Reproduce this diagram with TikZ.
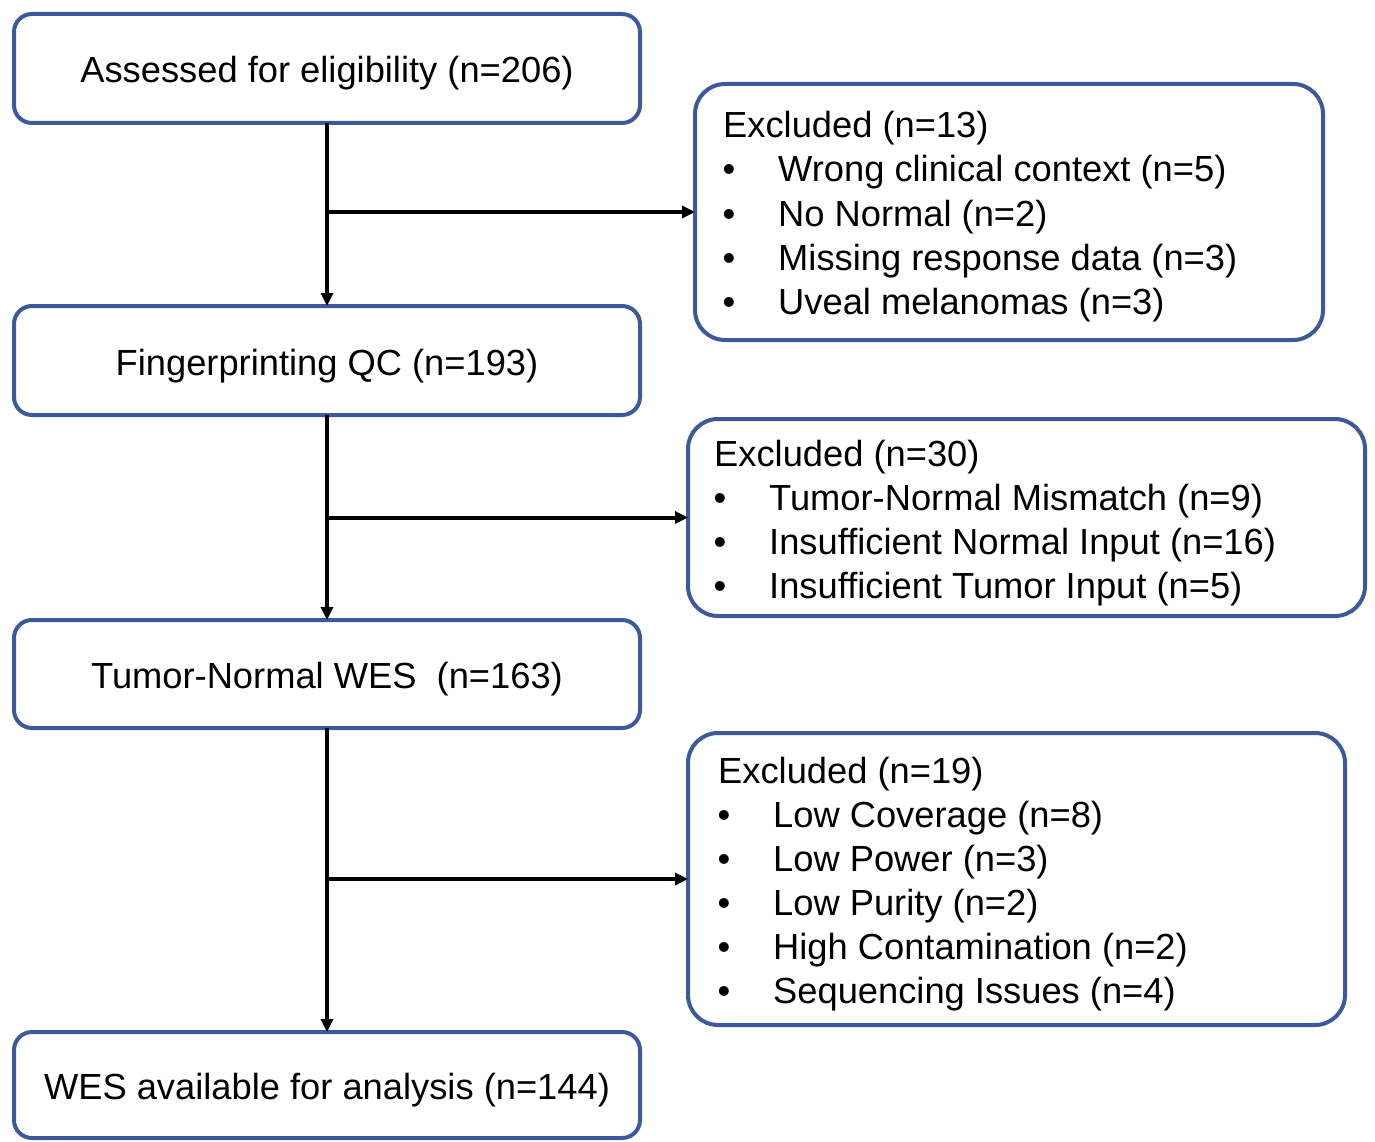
\documentclass[tikz,border=0pt]{standalone}
\usepackage{fontspec}
\setmainfont{Liberation Sans}
\usetikzlibrary{arrows.meta}
\definecolor{boxblue}{RGB}{60,90,155}
\begin{document}
\begin{tikzpicture}[x=1pt,y=-1pt,
  font=\fontsize{36.3}{42}\selectfont,
  mainbox/.style={draw=boxblue, line width=4pt, rounded corners=18pt, inner sep=0pt, outer sep=0pt, minimum width=626pt, text height=36pt, text depth=7pt},
  exbox/.style={draw=boxblue, line width=4pt, rounded corners=30pt, inner sep=0pt, outer sep=0pt},
  txt/.style={anchor=base west, inner sep=0pt},
  bul/.style={anchor=base, inner sep=0pt},
  arr/.style={line width=4pt, -{Triangle[length=13pt,width=12pt]}}]
\useasboundingbox (0,0) rectangle (1375,1142);

% main boxes
\node[mainbox, minimum height=109pt] (b1) at (327,68.5) {Assessed for eligibility (n=206)};
\node[mainbox, minimum height=109pt] (b2) at (327,360.5) {Fingerprinting QC (n=193)};
\node[mainbox, minimum height=108pt] (b3) at (327,674) {Tumor-Normal WES\ \ (n=163)};
\node[mainbox, minimum height=106pt] (b4) at (327,1085) {WES available for analysis (n=144)};

% exclusion boxes
\node[exbox, minimum width=628pt, minimum height=256pt] (e1) at (1009,212) {};
\node[exbox, minimum width=677pt, minimum height=197pt] (e2) at (1026.5,517.5) {};
\node[exbox, minimum width=657pt, minimum height=292pt] (e3) at (1016.5,879) {};

% exclusion box 1 texts
\node[txt] (e1h) at (723,138) {Excluded (n=13)};
\node[bul] (e1b1) at (729,182) {•};
\node[txt] (e1t1) at (778,182) {Wrong clinical context (n=5)};
\node[bul] (e1b2) at (729,226) {•};
\node[txt] (e1t2) at (778,226) {No Normal (n=2)};
\node[bul] (e1b3) at (729,270) {•};
\node[txt] (e1t3) at (778,270) {Missing response data (n=3)};
\node[bul] (e1b4) at (729,314) {•};
\node[txt] (e1t4) at (778,314) {Uveal melanomas (n=3)};

% exclusion box 2 texts
\node[txt] (e2h) at (714,466) {Excluded (n=30)};
\node[bul] (e2b1) at (720,510) {•};
\node[txt] (e2t1) at (769,510) {Tumor-Normal Mismatch (n=9)};
\node[bul] (e2b2) at (720,554) {•};
\node[txt] (e2t2) at (769,554) {Insufficient Normal Input (n=16)};
\node[bul] (e2b3) at (720,598) {•};
\node[txt] (e2t3) at (769,598) {Insufficient Tumor Input (n=5)};

% exclusion box 3 texts
\node[txt] (e3h) at (718,783) {Excluded (n=19)};
\node[bul] (e3b1) at (724,827) {•};
\node[txt] (e3t1) at (773,827) {Low Coverage (n=8)};
\node[bul] (e3b2) at (724,871) {•};
\node[txt] (e3t2) at (773,871) {Low Power (n=3)};
\node[bul] (e3b3) at (724,915) {•};
\node[txt] (e3t3) at (773,915) {Low Purity (n=2)};
\node[bul] (e3b4) at (724,959) {•};
\node[txt] (e3t4) at (773,959) {High Contamination (n=2)};
\node[bul] (e3b5) at (724,1003) {•};
\node[txt] (e3t5) at (773,1003) {Sequencing Issues (n=4)};

% connectors
\draw[arr] (b1.south) -- (b2.north);
\draw[arr] (b2.south) -- (b3.north);
\draw[arr] (b3.south) -- (b4.north);
\draw[arr] (b1.south |- e1.west) -- (e1.west);
\draw[arr] (b2.south |- e2.west) -- (e2.west);
\draw[arr] (b3.south |- e3.west) -- (e3.west);
\end{tikzpicture}
\end{document}
